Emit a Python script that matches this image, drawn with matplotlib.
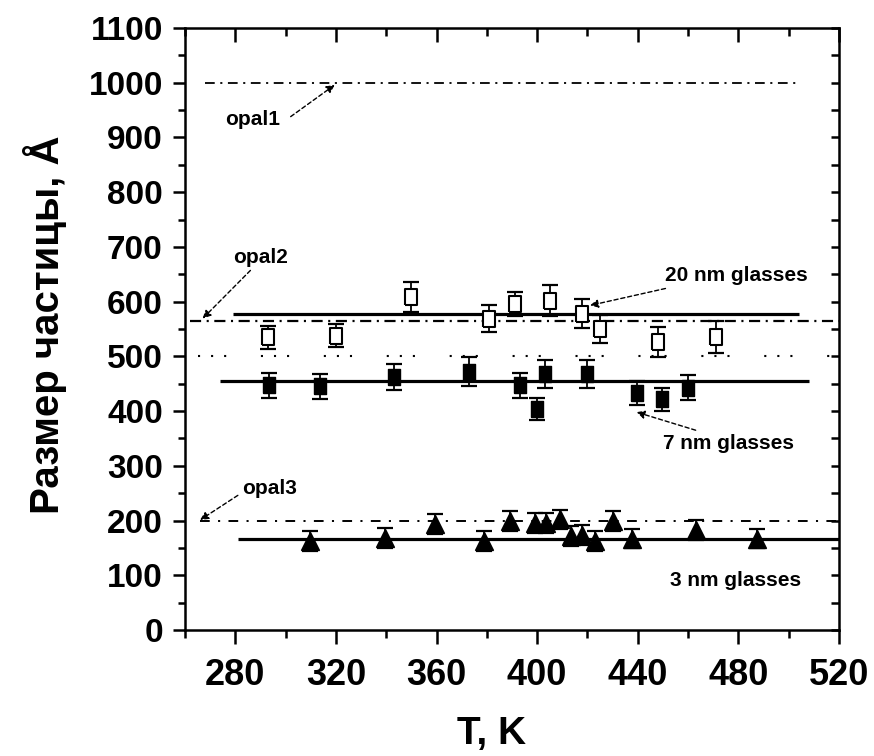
import matplotlib.pyplot as plt
from matplotlib.ticker import MultipleLocator

plt.rcParams['font.family'] = ['Liberation Sans', 'DejaVu Sans']
plt.rcParams['lines.scale_dashes'] = False

# 20 nm glasses (open squares)
T20 = [293, 320, 350, 381, 391, 405, 418, 425, 448, 471]
D20 = [535, 538, 608, 569, 596, 602, 578, 550, 526, 535]
E20 = [21, 21, 27, 24, 22, 28, 26, 25, 28, 29]

# 7 nm glasses (filled squares)
T7 = [293.5, 313.5, 343, 373, 393, 400, 403, 420, 439.5, 449.5, 460]
D7 = [447, 445, 462, 472, 447, 404, 468, 468, 433, 422, 443]
E7 = [23, 23, 24, 26, 23, 20, 26, 26, 22, 21, 22]

# 3 nm glasses (triangles)
T3 = [309.5, 339.5, 359.5, 379, 389, 399, 403.5, 409, 413.5, 418, 423, 430, 437.5, 463, 487.5]
D3 = [163, 168, 193, 163, 199, 196, 196, 202, 172, 174, 162, 199, 167, 183, 167]
E3 = [18] * len(T3)

# average lines: (T start, T end, value)
fit20 = (279, 504, 578)
fit7 = (274, 508, 455)
fit3 = (281, 520, 167)
# opal reference lines
opal1 = (268, 504, 1000)
opal2 = (262, 520, 564)
opal3 = (266, 520, 199)
level500 = (265, 520, 500)

fig = plt.figure(figsize=(8.74, 7.56), dpi=100)
ax = fig.add_axes([0.2117, 0.1667, 0.7483, 0.7963])

# reference lines
ax.plot(opal1[:2], [opal1[2]] * 2, color='black', lw=1.3, ls=(0, (7, 4, 1.5, 4)))
ax.plot(opal2[:2], [opal2[2]] * 2, color='black', lw=1.6, ls=(0, (8, 4, 1.5, 4)))
ax.plot(opal3[:2], [opal3[2]] * 2, color='black', lw=1.4, ls=(0, (7, 6, 1.5, 6)))
ax.plot(level500[:2], [level500[2]] * 2, color='black', lw=1.5,
        ls=(0, (1.5, 7.9, 1.5, 7.9, 1.5, 25)))

# fits
for f in (fit20, fit7, fit3):
    ax.plot(f[:2], [f[2]] * 2, color='black', lw=2.3, solid_capstyle='butt')

rect = [(-0.75, -1), (0.75, -1), (0.75, 1), (-0.75, 1), (-0.75, -1)]

ax.errorbar(T20, D20, yerr=E20, fmt='none', ecolor='black', elinewidth=1.3,
            capsize=6, capthick=1.6, zorder=3)
ax.plot(T20, D20, ls='none', marker=rect, ms=12, mfc='white', mec='black',
        mew=1.5, zorder=4)

ax.errorbar(T7, D7, yerr=E7, fmt='none', ecolor='black', elinewidth=1.3,
            capsize=6, capthick=1.6, zorder=3)
ax.plot(T7, D7, ls='none', marker=rect, ms=12, mfc='black', mec='black',
        mew=1.0, zorder=4)

ax.errorbar(T3, D3, yerr=E3, fmt='none', ecolor='black', elinewidth=1.3,
            capsize=6, capthick=1.6, zorder=3)
ax.plot(T3, D3, ls='none', marker='^', ms=13, mfc='black', mec='black', zorder=4)

# annotations
arrow = dict(arrowstyle='-|>', linestyle=(0, (3, 2)), lw=1.0, color='black',
             mutation_scale=12, shrinkA=0, shrinkB=0)
tk = dict(fontsize=15, fontweight='bold', ha='center', va='center')
ax.text(287, 932, 'opal1', **tk)
ax.annotate('', xy=(319.5, 996), xytext=(302, 938), arrowprops=arrow)
ax.text(290, 681, 'opal2', **tk)
ax.annotate('', xy=(267, 569), xytext=(286, 657), arrowprops=arrow)
ax.text(293.5, 259, 'opal3', **tk)
ax.annotate('', xy=(266, 201), xytext=(281, 246), arrowprops=arrow)
ax.text(479, 648, '20 nm glasses', **tk)
ax.annotate('', xy=(421, 593), xytext=(451, 624), arrowprops=arrow)
ax.text(476, 341, '7 nm glasses', **tk)
ax.annotate('', xy=(439.5, 398), xytext=(463, 365), arrowprops=arrow)
ax.text(479, 91, '3 nm glasses', **tk)

ax.set_xlim(260, 520)
ax.set_ylim(0, 1100)
ax.xaxis.set_major_locator(MultipleLocator(40))
ax.xaxis.set_minor_locator(MultipleLocator(20))
ax.yaxis.set_major_locator(MultipleLocator(100))
ax.yaxis.set_minor_locator(MultipleLocator(50))

for s in ax.spines.values():
    s.set_linewidth(1.8)

ax.tick_params(axis='both', which='both', width=1.8)
ax.tick_params(axis='x', which='major', direction='out', length=10, pad=10,
               top=True, labelsize=26)
ax.tick_params(axis='x', which='minor', direction='out', length=6, top=True)
ax.tick_params(axis='y', which='major', direction='out', length=9, pad=7,
               right=True, labelsize=24)
ax.tick_params(axis='y', which='minor', direction='out', length=5, right=True)
# top / right ticks point inward
for t in ax.xaxis.get_major_ticks():
    t.tick2line.set_marker(3)
    t.tick2line.set_markersize(10)
for t in ax.xaxis.get_minor_ticks():
    t.tick2line.set_marker(3)
    t.tick2line.set_markersize(6)
for t in ax.yaxis.get_major_ticks() + ax.yaxis.get_minor_ticks():
    t.tick2line.set_marker(0)
    t.tick2line.set_markersize(6)
for lab in ax.get_xticklabels() + ax.get_yticklabels():
    lab.set_fontweight('bold')

ax.set_xlabel('T, K', fontsize=28, fontweight='bold')
ax.xaxis.label.set_va('center')
ax.xaxis.set_label_coords(0.469, -0.173)
ax.set_ylabel('Размер частицы, Å', fontsize=29, fontweight='bold')
ax.yaxis.label.set_va('center')
ax.yaxis.set_label_coords(-0.214, 0.507)

fig.savefig('out.png', dpi=100)
